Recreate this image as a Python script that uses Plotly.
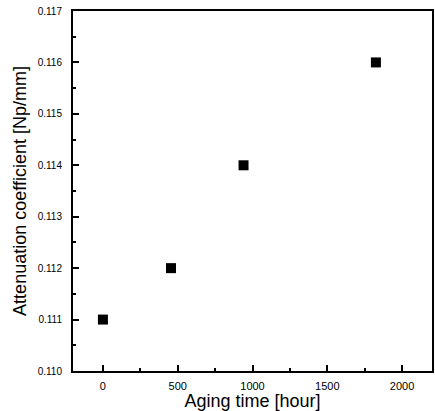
import plotly.graph_objects as go

aging_time = [0, 455, 940, 1825]
attenuation = [0.111, 0.112, 0.114, 0.116]
x_ticks = [0, 500, 1000, 1500, 2000]
y_ticks = [0.110, 0.111, 0.112, 0.113, 0.114, 0.115, 0.116, 0.117]

fig = go.Figure()
fig.add_trace(go.Scatter(
    x=aging_time, y=attenuation, mode="markers",
    marker=dict(symbol="square", size=10, color="black"),
    showlegend=False,
))

font = "Liberation Sans, Arial, sans-serif"
fig.update_layout(
    width=435, height=411,
    margin=dict(l=73, r=3, t=11, b=40),
    paper_bgcolor="white", plot_bgcolor="white",
    font=dict(family=font, color="black"),
)
fig.update_xaxes(
    range=[-200, 2200], tickvals=x_ticks, ticktext=[str(v) for v in x_ticks],
    ticks="inside", ticklen=6, tickwidth=1.5, tickcolor="black",
    minor=dict(dtick=250, tick0=0, ticks="inside", ticklen=3, tickcolor="black"),
    showline=True, linecolor="black", linewidth=2, mirror=True,
    showgrid=False, zeroline=False, automargin=False,
    tickfont=dict(size=11, family=font), ticklabelstandoff=4,
    title=dict(text="Aging time [hour]", font=dict(size=18, family=font), standoff=0),
)
fig.update_yaxes(
    range=[0.110, 0.117], tickvals=y_ticks, ticktext=[f"{v:.3f}" for v in y_ticks],
    ticks="inside", ticklen=6, tickwidth=1.5, tickcolor="black",
    minor=dict(dtick=0.0005, tick0=0.110, ticks="inside", ticklen=3, tickcolor="black"),
    showline=True, linecolor="black", linewidth=2, mirror=True,
    showgrid=False, zeroline=False, automargin=False,
    tickfont=dict(size=10, family=font), ticklabelstandoff=7,
    title=dict(text="Attenuation coefficient [Np/mm]", font=dict(size=18, family=font), standoff=6),
)

fig.write_html(
    "out.html",
    config={"displayModeBar": False},
    post_script="document.body.style.margin='0';document.body.style.overflow='hidden';",
)
